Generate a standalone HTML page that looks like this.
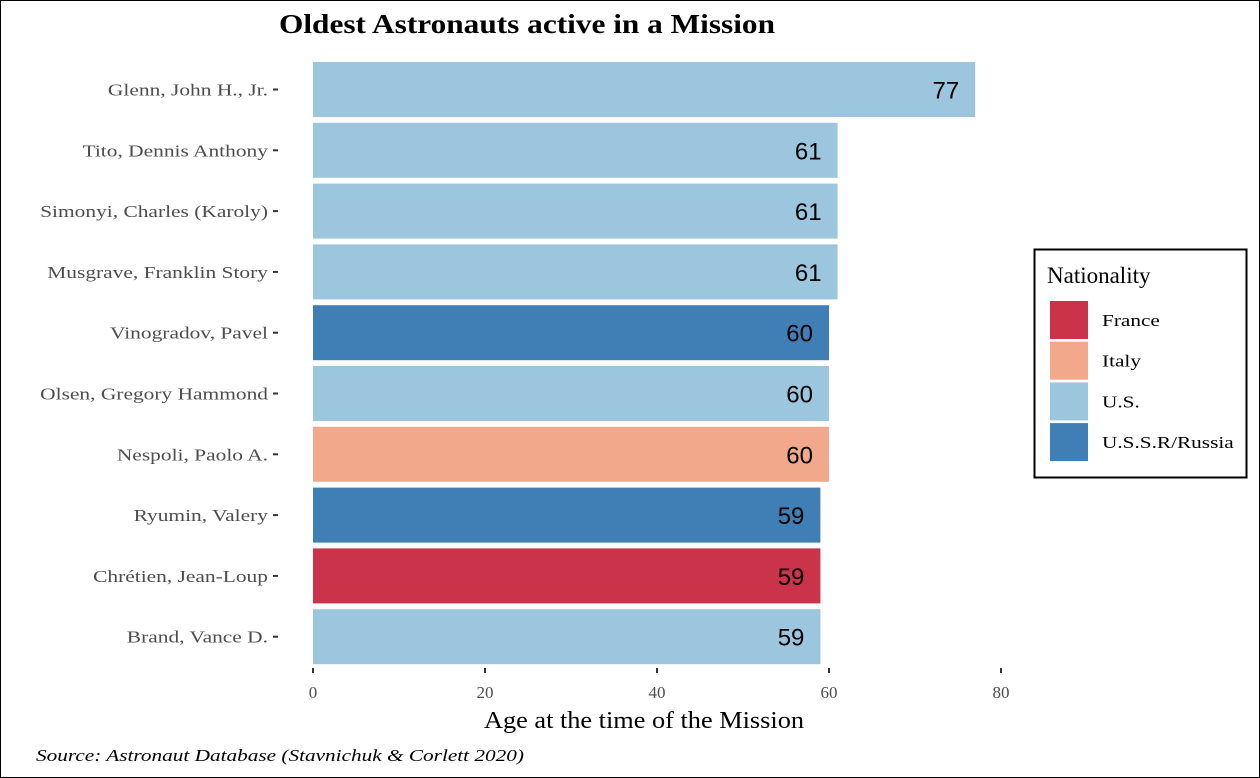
<!DOCTYPE html>
<html><head><meta charset="utf-8">
<style>
html,body{margin:0;padding:0;background:#fff}
svg{display:block}
text{font-family:"Liberation Serif",serif}
</style></head>
<body>
<svg id="chart" width="1260" height="778" xmlns="http://www.w3.org/2000/svg">
<rect x="0.5" y="0.5" width="1259" height="777" fill="#fff" stroke="#000"/>
<text class="st" data-w="496" x="279" y="33" font-size="27" font-weight="bold">Oldest Astronauts active in a Mission</text>
<g id="bars"></g>
<g id="xaxis"></g>
<text class="st" data-w="320" x="484" y="728" font-size="24">Age at the time of the Mission</text>
<text class="st" data-w="488" x="36" y="761" font-size="17" font-style="italic">Source: Astronaut Database (Stavnichuk &amp; Corlett 2020)</text>
<g>
<rect x="1034.5" y="249.5" width="212" height="228" fill="#fff" stroke="#000" stroke-width="2"/>
<text x="1047" y="283" font-size="23">Nationality</text>
<g id="legend"></g>
</g>
</svg>
<script>
const names=["Glenn, John H., Jr.","Tito, Dennis Anthony","Simonyi, Charles (Karoly)","Musgrave, Franklin Story","Vinogradov, Pavel","Olsen, Gregory Hammond","Nespoli, Paolo A.","Ryumin, Valery","Chrétien, Jean-Loup","Brand, Vance D."];
const ages=[77,61,61,61,60,60,60,59,59,59];
const nations=["U.S.","U.S.","U.S.","U.S.","U.S.S.R/Russia","U.S.","Italy","U.S.S.R/Russia","France","U.S."];
const legendLabels=["France","Italy","U.S.","U.S.S.R/Russia"];
const xTicks=[0,20,40,60,80];
const colors={"France":"#ca3349","Italy":"#f2a98b","U.S.":"#9cc6de","U.S.S.R/Russia":"#407eb6"};
const NS="http://www.w3.org/2000/svg";
const x=v=>313+v*8.6;
const y=i=>89.5+i*60.8;
function mk(tag,attrs,parent){const e=document.createElementNS(NS,tag);for(const k in attrs)e.setAttribute(k,attrs[k]);parent.appendChild(e);return e;}
function stretch(t,f){const w=t.getComputedTextLength();t.setAttribute('textLength',w*f);t.setAttribute('lengthAdjust','spacingAndGlyphs');}
const bars=document.getElementById('bars');
names.forEach((n,i)=>{
  const r=mk('rect',{x:x(0),y:y(i)-27.5,width:x(ages[i])-x(0),height:55,fill:colors[nations[i]]},bars);
  
  
  const t=mk('text',{x:x(ages[i])-16,y:y(i)+9,'font-size':24,'text-anchor':'end'},bars);
  t.style.fontFamily='"Liberation Sans",sans-serif';
  t.textContent=ages[i];
  
  
  const tk=mk('line',{x1:273,x2:278,y1:y(i),y2:y(i),stroke:'#333','stroke-width':2},bars);
  
  
  const l=mk('text',{x:268,y:y(i)+6,'font-size':17,'text-anchor':'end',fill:'#4d4d4d'},bars);
  l.textContent=n;
  
  
  stretch(l,1.26);
});
const xa=document.getElementById('xaxis');
xTicks.forEach(v=>{
  const tk=mk('line',{x1:x(v),x2:x(v),y1:668,y2:673,stroke:'#333','stroke-width':2},xa);
  
  
  const t=mk('text',{x:x(v),y:698,'font-size':17,'text-anchor':'middle',fill:'#4d4d4d'},xa);
  t.textContent=v;
  
  
});
const lg=document.getElementById('legend');
legendLabels.forEach((n,i)=>{
  const r=mk('rect',{x:1050,y:301+i*40.7,width:38,height:38,fill:colors[n]},lg);
  
  
  const t=mk('text',{x:1102,y:326+i*40.7,'font-size':17},lg);
  t.textContent=n;
  
  
  stretch(t,1.25);
});
document.querySelectorAll('text.st').forEach(t=>{const w=+t.getAttribute('data-w');t.setAttribute('textLength',w);t.setAttribute('lengthAdjust','spacingAndGlyphs');});
</script>
</body></html>
